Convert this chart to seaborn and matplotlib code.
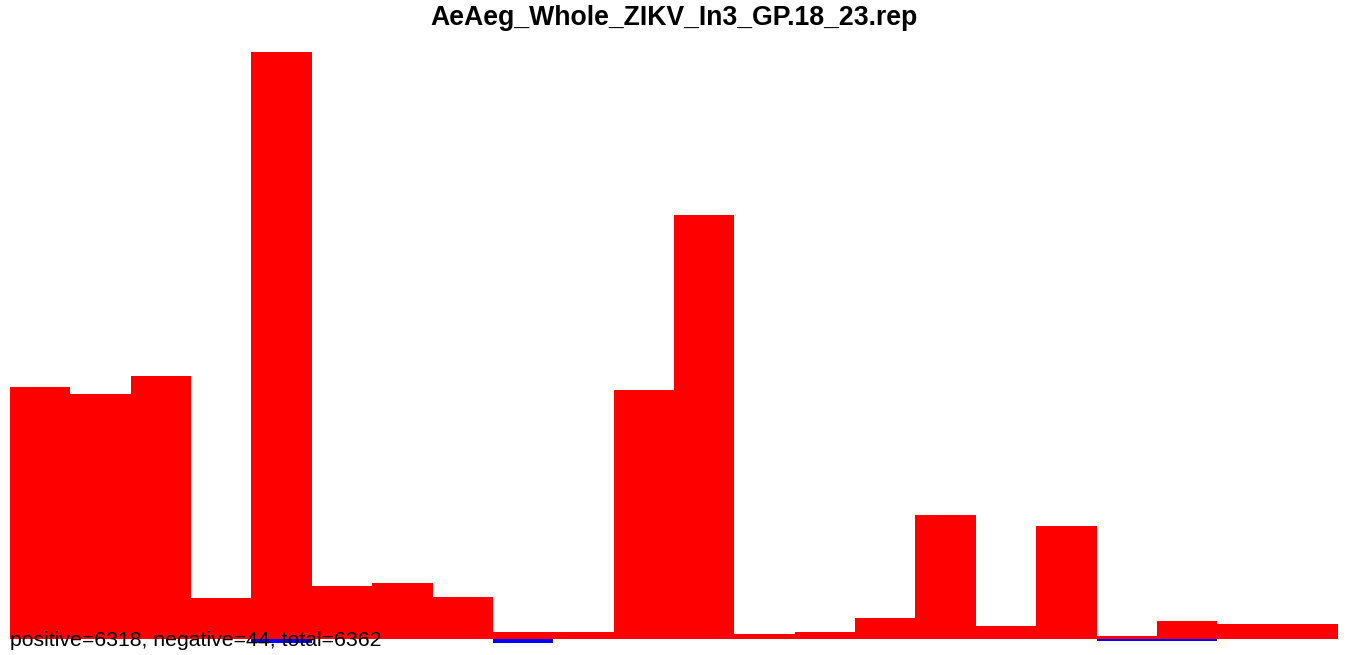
import numpy as np
import pandas as pd
import matplotlib
matplotlib.use("Agg")
import matplotlib.pyplot as plt
import seaborn as sns

# valores (22 posicoes)
posicoes = list(range(1, 23))
positivos = [622, 605, 650, 101, 1450, 131, 138, 104, 17, 17, 615,
             1047, 12, 17, 52, 306, 32, 279, 7, 44, 36, 36]
negativos = [-1, -1, -1, -1, -10, -1, -1, -1, -10, -1, -1,
             -1, -1, -1, -1, -1, -1, -1, -4, -4, 0, 0]
titulo = "AeAeg_Whole_ZIKV_In3_GP.18_23.rep"

df = pd.DataFrame({"pos": posicoes, "positivo": positivos, "negativo": negativos})
total_pos = sum(positivos)
total_neg = -sum(negativos)

sns.set_style("white")
plt.rcParams['font.family'] = ['Liberation Sans', 'DejaVu Sans']

fig = plt.figure(figsize=(13.47, 6.55), dpi=100)
ax = fig.add_axes([10 / 1347, 1 - 645 / 655, 1328 / 1347, (645 - 52) / 655])

sns.barplot(data=df, x="pos", y="positivo", color="#ff0000", saturation=1,
            width=1.0, linewidth=0, ax=ax)
sns.barplot(data=df, x="pos", y="negativo", color="#0000ff", saturation=1,
            width=1.0, linewidth=0, ax=ax)

ax.set_xlim(-0.5, len(posicoes) - 0.5)
ax.set_ylim(-15, max(positivos))
ax.axis("off")

fig.text(0.5, 1 - 18 / 655, titulo, ha="center", va="center",
         fontsize=19.2, fontweight="bold", color="black")
fig.text(10 / 1347, 1 - 641 / 655,
         f"positive={total_pos}, negative={total_neg}, total={total_pos + total_neg}",
         ha="left", va="center", fontsize=15.3, color="black")

fig.savefig("out.png", dpi=100)
